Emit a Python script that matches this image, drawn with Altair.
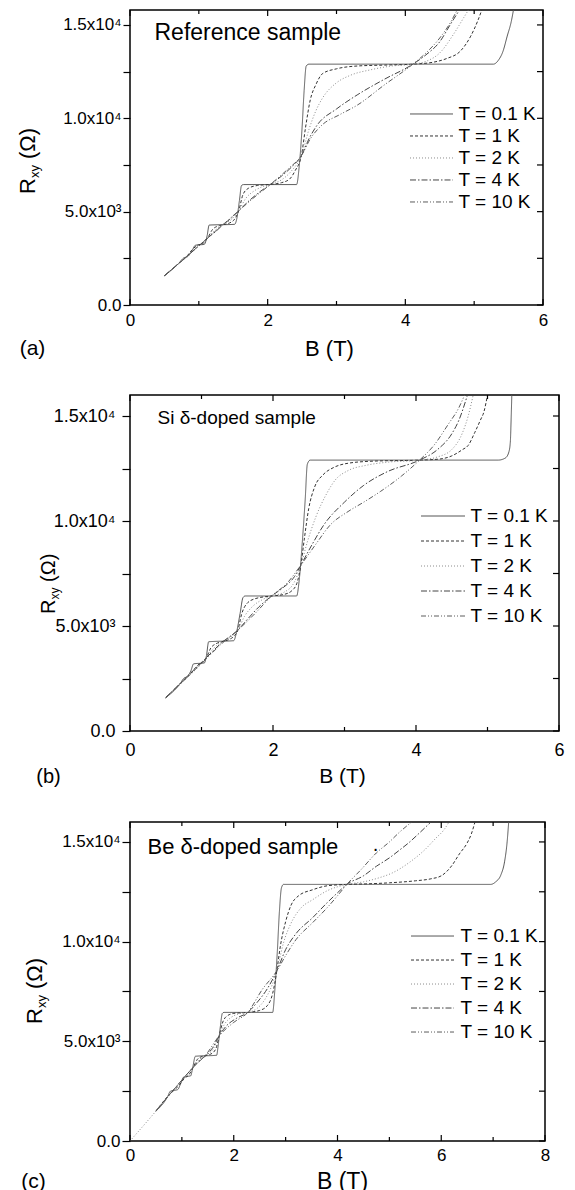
import altair as alt
import pandas as pd

FONT = "Liberation Sans"

T_LABELS = ["T = 0.1 K", "T = 1 K", "T = 2 K", "T = 4 K", "T = 10 K"]
T_COLORS = ["#555555", "#333333", "#8c8c8c", "#444444", "#5c5c5c"]
T_DASHES = [[1, 0], [3, 2], [1, 2], [6, 2, 1.5, 2], [5, 2, 1, 2, 1, 2]]

# R values in kOhm, B in Tesla
# ---- (a) Reference sample ----
A_T01 = [[0.5,1.57],[0.7,2.2],[0.78,2.52],[0.84,2.6],[0.9,2.9],[0.95,3.2],[1.08,3.25],[1.12,3.7],[1.15,4.28],[1.52,4.32],[1.55,4.6],[1.59,5.6],[1.62,6.4],[1.65,6.45],[2.42,6.45],[2.46,7.5],[2.5,9.5],[2.53,11.5],[2.56,12.8],[2.6,12.9],[5.28,12.9],[5.35,13.1],[5.42,13.6],[5.48,14.4],[5.54,15.2],[5.58,16.0]]
A_T1 = [[0.5,1.57],[0.7,2.2],[0.82,2.58],[0.9,2.95],[0.98,3.2],[1.06,3.3],[1.13,3.6],[1.2,4.05],[1.3,4.25],[1.35,4.3],[1.45,4.4],[1.52,4.6],[1.58,5.05],[1.64,5.9],[1.72,6.25],[1.85,6.4],[2.04,6.46],[2.2,6.55],[2.32,6.75],[2.4,7.2],[2.49,8.0],[2.55,9.5],[2.62,11.0],[2.7,11.8],[2.8,12.4],[3.0,12.65],[3.3,12.8],[3.7,12.85],[4.11,12.9],[4.4,13.0],[4.6,13.2],[4.8,13.6],[4.95,14.4],[5.05,15.2],[5.13,16.0]]
A_T2 = [[0.5,1.57],[0.82,2.6],[0.95,3.1],[1.02,3.25],[1.08,3.38],[1.13,3.6],[1.22,3.95],[1.35,4.3],[1.48,4.6],[1.58,5.05],[1.68,5.7],[1.8,6.1],[1.9,6.3],[2.04,6.46],[2.2,6.7],[2.35,7.2],[2.49,8.0],[2.6,9.4],[2.7,10.4],[2.8,11.1],[3.0,11.9],[3.2,12.3],[3.5,12.6],[3.8,12.8],[4.11,12.9],[4.3,13.05],[4.5,13.5],[4.7,14.5],[4.85,15.4],[4.95,16.0]]
A_T4 = [[0.5,1.57],[0.8,2.52],[1.02,3.23],[1.13,3.6],[1.25,3.95],[1.35,4.3],[1.47,4.65],[1.58,5.05],[1.75,5.65],[1.9,6.1],[2.04,6.46],[2.2,6.9],[2.35,7.4],[2.49,8.0],[2.6,8.9],[2.72,9.64],[3.0,10.5],[3.3,11.25],[3.7,12.1],[4.11,12.9],[4.3,13.4],[4.5,14.1],[4.65,15.0],[4.82,16.0]]
A_T10 = [[0.5,1.57],[0.8,2.52],[1.13,3.6],[1.35,4.3],[1.58,5.05],[1.8,5.75],[2.04,6.46],[2.3,7.3],[2.49,8.0],[2.62,8.9],[2.79,9.64],[3.05,10.2],[3.3,10.7],[3.7,11.8],[4.11,12.9],[4.3,13.5],[4.5,14.3],[4.65,15.1],[4.78,16.0]]

# ---- (b) Si delta-doped sample ----
B_T01 = [[0.5,1.59],[0.7,2.25],[0.75,2.5],[0.8,2.6],[0.85,2.85],[0.89,3.2],[1.04,3.24],[1.07,3.6],[1.1,4.25],[1.45,4.3],[1.49,4.7],[1.54,5.6],[1.58,6.35],[1.61,6.43],[2.33,6.43],[2.37,7.3],[2.41,9.0],[2.45,11.0],[2.48,12.7],[2.52,12.9],[5.15,12.9],[5.25,13.0],[5.3,13.3],[5.32,13.8],[5.33,14.8],[5.34,16.0]]
B_T1 = [[0.5,1.59],[0.75,2.4],[0.82,2.62],[0.9,2.95],[0.97,3.2],[1.03,3.3],[1.07,3.5],[1.13,3.95],[1.2,4.15],[1.28,4.25],[1.38,4.35],[1.45,4.5],[1.51,4.81],[1.56,5.55],[1.63,6.05],[1.75,6.3],[1.98,6.43],[2.15,6.5],[2.27,6.7],[2.34,7.1],[2.39,7.9],[2.44,9.2],[2.5,10.6],[2.58,11.6],[2.7,12.2],[2.85,12.55],[3.05,12.75],[3.4,12.85],[4.05,12.9],[4.33,12.95],[4.5,13.1],[4.65,13.4],[4.73,13.6],[4.82,14.2],[4.9,14.8],[4.95,15.2],[5.0,16.0]]
B_T2 = [[0.5,1.59],[0.85,2.7],[0.97,3.1],[1.07,3.5],[1.16,3.9],[1.28,4.25],[1.42,4.5],[1.51,4.81],[1.6,5.45],[1.72,5.95],[1.85,6.25],[1.98,6.43],[2.15,6.6],[2.3,7.1],[2.39,7.9],[2.48,9.0],[2.6,10.2],[2.75,11.3],[2.87,11.95],[3.05,12.4],[3.3,12.65],[3.6,12.8],[4.05,12.9],[4.3,13.05],[4.5,13.4],[4.65,14.2],[4.73,15.0],[4.8,16.0]]
B_T4 = [[0.5,1.59],[1.07,3.5],[1.28,4.2],[1.51,4.81],[1.65,5.35],[1.8,5.9],[1.98,6.43],[2.15,6.85],[2.3,7.35],[2.39,7.9],[2.55,8.9],[2.71,9.81],[3.0,10.9],[3.27,11.7],[3.6,12.35],[4.05,12.9],[4.3,13.4],[4.5,14.15],[4.6,14.8],[4.72,16.0]]
B_T10 = [[0.5,1.59],[1.07,3.45],[1.28,4.15],[1.51,4.81],[1.75,5.6],[1.98,6.43],[2.2,7.05],[2.39,7.9],[2.6,8.9],[2.8,9.81],[3.05,10.45],[3.27,10.9],[3.5,11.4],[3.8,12.15],[4.05,12.9],[4.25,13.6],[4.45,14.6],[4.6,15.4],[4.68,16.0]]

# ---- (c) Be delta-doped sample ----
C_T01 = [[0.5,1.5],[0.72,2.2],[0.78,2.5],[0.92,2.58],[0.98,2.9],[1.04,3.22],[1.17,3.27],[1.21,3.7],[1.26,4.25],[1.67,4.3],[1.7,4.8],[1.74,5.7],[1.78,6.4],[1.81,6.45],[2.75,6.45],[2.79,7.5],[2.84,9.5],[2.88,11.5],[2.92,12.7],[2.96,12.87],[6.95,12.87],[7.05,13.0],[7.15,13.35],[7.22,14.0],[7.27,15.0],[7.3,16.0]]
C_T1 = [[0.5,1.5],[0.75,2.3],[0.85,2.55],[0.95,2.8],[1.05,3.15],[1.13,3.3],[1.22,3.7],[1.3,4.1],[1.4,4.25],[1.55,4.35],[1.65,4.6],[1.72,5.28],[1.78,5.9],[1.86,6.25],[2.0,6.4],[2.27,6.45],[2.5,6.55],[2.65,6.8],[2.75,7.4],[2.83,8.53],[2.9,9.8],[3.0,11.0],[3.1,11.8],[3.25,12.3],[3.52,12.6],[3.8,12.8],[4.18,12.87],[4.6,12.9],[5.0,12.95],[5.5,13.05],[5.8,13.15],[6.0,13.3],[6.2,13.8],[6.35,14.4],[6.5,14.95],[6.58,15.4],[6.65,16.0]]
C_T2 = [[0.0,0.0],[0.5,1.5],[0.85,2.6],[1.0,3.05],[1.1,3.35],[1.22,3.7],[1.32,4.05],[1.47,4.3],[1.6,4.6],[1.72,5.28],[1.82,5.85],[1.95,6.2],[2.1,6.38],[2.27,6.45],[2.45,6.65],[2.6,7.1],[2.72,7.7],[2.83,8.53],[2.96,9.95],[3.1,10.9],[3.3,11.7],[3.52,12.1],[3.8,12.55],[4.18,12.87],[4.5,13.0],[4.8,13.2],[5.06,13.45],[5.4,14.0],[5.68,14.6],[5.9,15.2],[6.05,15.6],[6.15,16.0]]
C_T4 = [[0.5,1.5],[0.9,2.75],[1.22,3.7],[1.35,4.05],[1.47,4.3],[1.6,4.7],[1.72,5.28],[1.85,5.75],[2.05,6.15],[2.27,6.45],[2.45,6.95],[2.65,7.65],[2.83,8.53],[3.0,9.6],[3.2,10.4],[3.52,11.2],[3.8,11.95],[4.0,12.45],[4.18,12.87],[4.5,13.3],[4.75,13.78],[5.0,14.2],[5.2,14.6],[5.37,14.95],[5.6,15.5],[5.8,16.0]]
C_T10 = [[0.5,1.5],[0.9,2.75],[1.22,3.7],[1.47,4.35],[1.72,5.28],[2.0,5.95],[2.27,6.45],[2.55,7.6],[2.83,8.53],[3.0,9.3],[3.2,10.1],[3.52,10.95],[3.8,11.7],[4.0,12.3],[4.18,12.87],[4.45,13.6],[4.75,14.45],[5.0,15.0],[5.2,15.5],[5.43,16.0]]

Y_TICKS = [0, 2.5, 5, 7.5, 10, 12.5, 15]
Y_LABEL_EXPR = ("datum.value == 0 ? '0.0' : datum.value == 5 ? '5.0x10\u00b3' : "
                "datum.value == 10 ? '1.0x10\u2074' : datum.value == 15 ? '1.5x10\u2074' : ''")


def txt(s, x, y, fs, align="left", baseline="middle", angle=None):
    kw = dict(text=s, fontSize=fs, font=FONT, align=align, baseline=baseline, color="black")
    if angle is not None:
        kw["angle"] = angle
    return alt.Chart(alt.Data(values=[{}])).mark_text(**kw).encode(
        x=alt.value(x), y=alt.value(y))


def x_ticks(vals, scale, axis, y0, y1):
    df = pd.DataFrame({"v": vals})
    return alt.Chart(df).mark_rule(color="black", strokeWidth=1.2).encode(
        x=alt.X("v:Q", scale=scale, axis=axis), y=alt.value(y0), y2=alt.value(y1))


def y_ticks(vals, scale, axis, x0, x1):
    df = pd.DataFrame({"v": vals})
    return alt.Chart(df).mark_rule(color="black", strokeWidth=1.2).encode(
        y=alt.Y("v:Q", scale=scale, axis=axis), x=alt.value(x0), x2=alt.value(x1))


def panel(series, xmax, xmaj, xmin, ymax, W, H, ytick, ypad, yfs, xpad, xfs,
          legx, legy, legrow, legsym, legoff, title, title_pos, title_fs,
          letter, letter_pos, letter_fs, xt_pos, xt_fs, yt_pos, yt_fs, anchor, extra=None):
    rows = []
    for lab, pts in zip(T_LABELS, series):
        for b, r in pts:
            rows.append({"B": b, "R": r, "T": lab})
    df = pd.DataFrame(rows)
    xs = alt.Scale(domain=[0, xmax], nice=False, zero=False)
    ys = alt.Scale(domain=[0, ymax], nice=False, zero=False)
    x_axis = alt.Axis(orient="bottom", values=xmaj, format="d",
                      ticks=False, tickSize=0, domain=False, grid=False, title=None,
                      labelFontSize=xfs, labelPadding=xpad, labelFont=FONT, labelColor="black",
                      labelFlush=False, labelOverlap=False)
    y_axis = alt.Axis(orient="left", values=Y_TICKS,
                      labelExpr=Y_LABEL_EXPR, tickSize=ytick, tickColor="black", tickWidth=1.2,
                      domain=False, grid=False, title=None, labelFontSize=yfs, labelPadding=ypad,
                      labelFont=FONT, labelColor="black", labelFlush=False, labelOverlap=False)
    leg = alt.Legend(orient="none", legendX=legx, legendY=legy, title=None,
                     symbolType="stroke", symbolSize=legsym * legsym, symbolStrokeWidth=1,
                     labelFontSize=19, labelFont=FONT, labelColor="black",
                     clipHeight=legrow, rowPadding=0, labelOffset=legoff, padding=0, offset=0)
    lines = alt.Chart(df).mark_line(clip=True, interpolate="monotone", strokeWidth=1).encode(
        x=alt.X("B:Q", scale=xs, axis=x_axis),
        y=alt.Y("R:Q", scale=ys, axis=y_axis),
        color=alt.Color("T:N", scale=alt.Scale(domain=T_LABELS, range=T_COLORS), legend=leg),
        strokeDash=alt.StrokeDash("T:N", scale=alt.Scale(domain=T_LABELS, range=T_DASHES), legend=leg),
    )
    layers = [
        lines,
        x_ticks(xmaj, xs, x_axis, H, H - 6),
        x_ticks(xmin, xs, x_axis, H, H - 4),
        x_ticks(xmaj, xs, x_axis, 0, 6),
        x_ticks(xmin, xs, x_axis, 0, 4),
        y_ticks(Y_TICKS, ys, y_axis, W, W - 6),
        txt(title, title_pos[0], title_pos[1], title_fs),
        txt(letter, letter_pos[0], letter_pos[1], letter_fs, align="center"),
        txt("B (T)", xt_pos[0], xt_pos[1], xt_fs, align="center"),
    ]
    # y title: R, subscript xy, (Ohm), rotated
    rx, ry = yt_pos
    r_adv = 0.722 * yt_fs
    sub_fs = round(yt_fs * 0.6)
    layers.append(txt("R", rx, ry, yt_fs, baseline="alphabetic", angle=270))
    layers.append(txt("xy", rx + 4, ry - r_adv, sub_fs, baseline="alphabetic", angle=270))
    layers.append(txt("(\u03a9)", rx, ry - r_adv - 1.0 * sub_fs - 0.28 * yt_fs, yt_fs,
                      baseline="alphabetic", angle=270))
    if extra:
        layers.extend(extra)
    ax_, ay1, ay2 = anchor
    layers.append(alt.Chart(alt.Data(values=[{}])).mark_rule(color="white", strokeWidth=1).encode(
        x=alt.value(ax_), y=alt.value(ay1), y2=alt.value(ay2)))
    return alt.layer(*layers).properties(width=W, height=H)


pa = panel([A_T01, A_T1, A_T2, A_T4, A_T10], 6, [0, 2, 4, 6], [1, 3, 5], 15.8, 413, 295,
           7, 2, 17, 7, 17,
           279.5, 93.1, 21.75, 43, 5,
           "Reference sample", (24.5, 23), 23,
           "(a)", (-97.5, 339), 21, (199.5, 339), 22, (-95.5, 184), 22,
           (-120, -0.5, 376))
pb = panel([B_T01, B_T1, B_T2, B_T4, B_T10], 6, [0, 2, 4, 6], [1, 3, 5], 16, 429, 336,
           8, 7, 18, 10, 18,
           290.5, 108.75, 24.5, 44, 5,
           "Si \u03b4-doped sample", (27.5, 23), 19,
           "(b)", (-81.5, 382), 20, (212.5, 382), 21, (-75.5, 219), 20,
           (-104, -5, 404))
pc = panel([C_T01, C_T1, C_T2, C_T4, C_T10], 8, [0, 2, 4, 6, 8], [1, 3, 5, 7], 16, 415, 319,
           8, 2, 17, 6, 17,
           280.5, 102.4, 23.25, 43, 6,
           "Be \u03b4-doped sample", (17.5, 25), 22,
           "(c)", (-96.5, 360), 21, (212.5, 360), 23, (-88.5, 202), 22,
           (-118, -19, 373),
           extra=[txt("\u00b7", 245.5, 27, 20, align="center")])

chart = alt.vconcat(pa, pb, pc, spacing=0, bounds="full",
                    padding={"left": 0, "top": 0, "right": 0, "bottom": 0}
).resolve_scale(x="independent", y="independent", color="independent", strokeDash="independent"
).resolve_legend(color="independent", strokeDash="independent"
).configure(font=FONT, background="white"
).configure_view(stroke="black", strokeWidth=1.5)

chart.save("out.html", embed_options={"renderer": "svg", "actions": False})
